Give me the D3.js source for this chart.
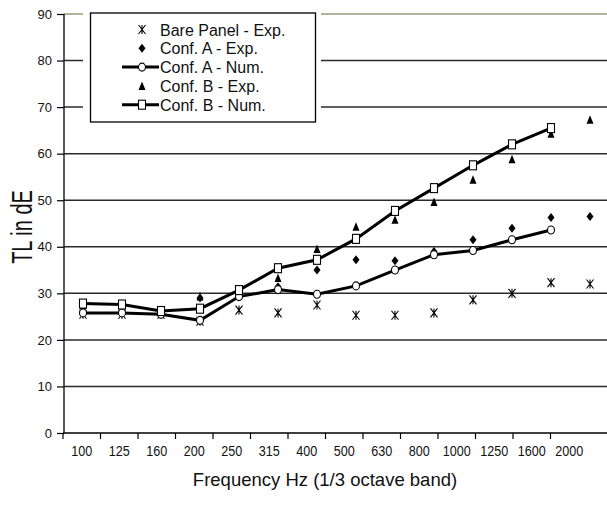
<!DOCTYPE html>
<html>
<head>
    <title>TL vs frequency</title>
    <script src="https://d3js.org/d3.v7.min.js"></script>
    <style>
        body { margin: 0; background-color: #FFFFFF; }
        text { font-family: "Liberation Sans", Arial, sans-serif; fill: #111; }
    </style>
</head>
<body>
<div id="chart"></div>
<script>
    // 1/3 octave band centre frequencies
    var bands = ["100", "125", "160", "200", "250", "315", "400", "500", "630", "800", "1000", "1250", "1600", "2000"];
    var yTicks = [0, 10, 20, 30, 40, 50, 60, 70, 80, 90];

    // experimental points (all 14 bands)
    var bareExp  = [25.5, 25.5, 25.5, 24.0, 26.4, 25.8, 27.5, 25.3, 25.3, 25.8, 28.6, 30.0, 32.3, 32.0];
    var confAExp = [26.0, 26.0, 25.8, 29.0, 29.6, 31.4, 35.0, 37.2, 37.0, 39.0, 41.5, 44.0, 46.3, 46.5];
    var confBExp = [27.5, 27.5, 26.5, 29.3, 30.0, 33.3, 39.5, 44.3, 45.8, 49.6, 54.4, 58.8, 64.3, 67.3];
    // numerical curves (100 - 1600 Hz)
    var confANum = [25.8, 25.8, 25.5, 24.2, 29.3, 30.8, 29.8, 31.6, 35.0, 38.3, 39.2, 41.5, 43.6];
    var confBNum = [27.8, 27.6, 26.2, 26.7, 30.7, 35.4, 37.2, 41.7, 47.7, 52.6, 57.5, 62.0, 65.5];

    var width = 607, height = 513;

    var svg = d3.select("#chart").append("svg")
        .attr("width", width)
        .attr("height", height);

    // scales
    var y = d3.scaleLinear().domain([0, 90]).range([433, 14]);
    var xBand = d3.scaleBand().domain(bands).range([63, 588]);
    var xPt = d3.scalePoint().domain(bands).range([83, 590]);

    // gridlines
    svg.append("g").selectAll("line")
        .data(yTicks.filter(function (d) { return d > 0; }))
        .enter().append("line")
        .attr("x1", 64).attr("x2", width)
        .attr("y1", function (d) { return y(d); })
        .attr("y2", function (d) { return y(d); })
        .attr("stroke", function (d) { return d === 90 ? "#9a9a78" : "#2a2a2a"; })
        .attr("stroke-width", 1.5);

    // y axis
    var yAxis = svg.append("g").attr("transform", "translate(64,0)")
        .call(d3.axisLeft(y).tickValues(yTicks).tickSize(7).tickPadding(5));
    yAxis.select(".domain").remove();
    yAxis.selectAll("line").attr("stroke", "#000").attr("stroke-width", 1.2);
    yAxis.selectAll("text").attr("font-size", 13).attr("fill", "#111")
        .attr("font-family", "'Liberation Sans', Arial, sans-serif");
    svg.append("line").attr("x1", 64).attr("x2", 64).attr("y1", y(90)).attr("y2", y(0))
        .attr("stroke", "#000").attr("stroke-width", 1.3);

    // x axis: ticks at band edges, labels at band centres
    svg.append("line").attr("x1", 63).attr("x2", width).attr("y1", y(0)).attr("y2", y(0))
        .attr("stroke", "#000").attr("stroke-width", 1.3);
    svg.append("g").selectAll("line")
        .data(bands).enter().append("line")
        .attr("x1", function (d) { return xBand(d); })
        .attr("x2", function (d) { return xBand(d); })
        .attr("y1", y(0)).attr("y2", y(0) + 6)
        .attr("stroke", "#000").attr("stroke-width", 1.2);
    svg.append("g").selectAll("text")
        .data(bands).enter().append("text")
        .attr("x", function (d) { return xBand(d) + xBand.bandwidth() / 2; })
        .attr("y", 456)
        .attr("text-anchor", "middle")
        .attr("font-size", 14)
        .attr("textLength", function (d) { return d.length * 7; })
        .attr("lengthAdjust", "spacingAndGlyphs")
        .text(function (d) { return d; });

    // axis titles
    svg.append("text")
        .attr("x", 325).attr("y", 486)
        .attr("text-anchor", "middle")
        .attr("font-size", 18.5)
        .text("Frequency Hz (1/3 octave band)");
    svg.append("text")
        .attr("transform", "translate(32,227) rotate(-90) scale(1,1.45)")
        .attr("text-anchor", "middle")
        .attr("font-size", 20)
        .text("TL in dE");

    // marker shapes (slightly narrow, like the original)
    var mw = 3.5, mh = 4.5;
    function drawMarker(g, type, cx, cy) {
        if (type === "star") {
            g.append("path")
                .attr("d", "M" + (cx - mw) + "," + (cy - mh) + "L" + (cx + mw) + "," + (cy + mh) +
                    "M" + (cx + mw) + "," + (cy - mh) + "L" + (cx - mw) + "," + (cy + mh) +
                    "M" + cx + "," + (cy - mh) + "L" + cx + "," + (cy + mh))
                .attr("stroke", "#000").attr("stroke-width", 1.1).attr("fill", "none");
        } else if (type === "diamond") {
            g.append("path")
                .attr("d", "M" + cx + "," + (cy - mh) + "L" + (cx + mw) + "," + cy +
                    "L" + cx + "," + (cy + mh) + "L" + (cx - mw) + "," + cy + "Z")
                .attr("fill", "#000");
        } else if (type === "triangle") {
            g.append("path")
                .attr("d", "M" + cx + "," + (cy - mh) + "L" + (cx + mw) + "," + (cy + mh - 0.5) +
                    "L" + (cx - mw) + "," + (cy + mh - 0.5) + "Z")
                .attr("fill", "#000");
        } else if (type === "circle") {
            g.append("ellipse")
                .attr("cx", cx).attr("cy", cy).attr("rx", mw).attr("ry", mh - 0.5)
                .attr("fill", "#fff").attr("stroke", "#000").attr("stroke-width", 1.1);
        } else if (type === "square") {
            g.append("rect")
                .attr("x", cx - mw).attr("y", cy - mh).attr("width", mw * 2).attr("height", mh * 2)
                .attr("fill", "#fff").attr("stroke", "#000").attr("stroke-width", 1.1);
        }
    }

    var line = d3.line()
        .x(function (d, i) { return xPt(bands[i]); })
        .y(function (d) { return y(d); });

    var plot = svg.append("g");

    // curves
    [confANum, confBNum].forEach(function (s) {
        plot.append("path")
            .datum(s)
            .attr("d", line)
            .attr("fill", "none")
            .attr("stroke", "#000")
            .attr("stroke-width", 3);
    });

    // experimental markers
    bareExp.forEach(function (v, i) { drawMarker(plot, "star", xPt(bands[i]), y(v)); });
    confAExp.forEach(function (v, i) { drawMarker(plot, "diamond", xPt(bands[i]), y(v)); });
    confBExp.forEach(function (v, i) { drawMarker(plot, "triangle", xPt(bands[i]), y(v)); });
    // numerical markers
    confANum.forEach(function (v, i) { drawMarker(plot, "circle", xPt(bands[i]), y(v)); });
    confBNum.forEach(function (v, i) { drawMarker(plot, "square", xPt(bands[i]), y(v)); });

    // legend
    var legendNames = ["Bare Panel - Exp.", "Conf. A - Exp.", "Conf. A - Num.", "Conf. B - Exp.", "Conf. B - Num."];
    var legendTypes = ["star", "diamond", "circle", "triangle", "square"];
    var legendLines = [false, false, true, false, true];

    var legend = svg.append("g");
    legend.append("rect")
        .attr("x", 83).attr("y", 6).attr("width", 238).attr("height", 124)
        .attr("fill", "#fff");
    legend.append("rect")
        .attr("x", 90.5).attr("y", 13).attr("width", 225).attr("height", 109)
        .attr("fill", "none").attr("stroke", "#000").attr("stroke-width", 1.3);

    legendNames.forEach(function (name, i) {
        var cy = 29.5 + i * 18.8;
        if (legendLines[i]) {
            legend.append("line")
                .attr("x1", 122).attr("x2", 159).attr("y1", cy).attr("y2", cy)
                .attr("stroke", "#000").attr("stroke-width", 3);
        }
        drawMarker(legend, legendTypes[i], 142, cy);
        legend.append("text")
            .attr("x", 160).attr("y", cy + 6)
            .attr("font-size", 16)
            .text(name);
    });
</script>
</body>
</html>
